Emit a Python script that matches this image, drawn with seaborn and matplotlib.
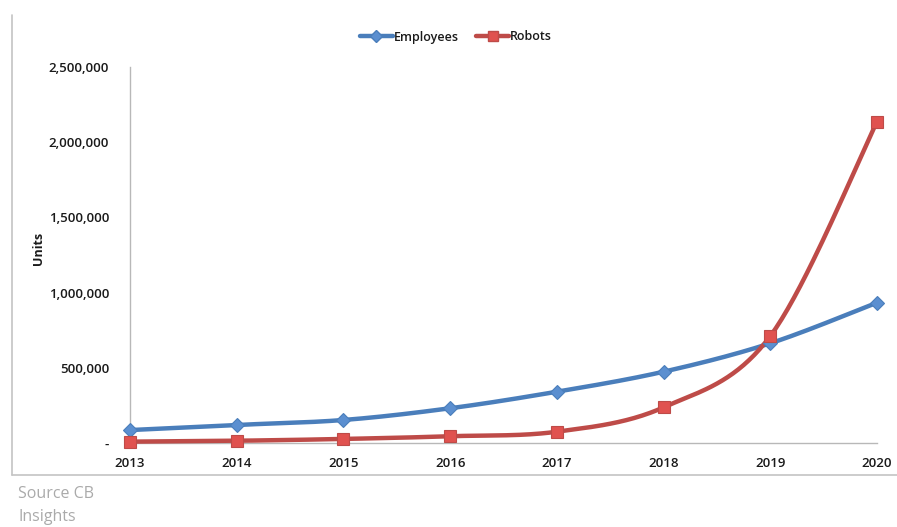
import numpy as np
import pandas as pd
import matplotlib
matplotlib.use("Agg")
import matplotlib.pyplot as plt
import seaborn as sns
from matplotlib.lines import Line2D
from matplotlib.ticker import FuncFormatter

years = [2013, 2014, 2015, 2016, 2017, 2018, 2019, 2020]
employees = [86000, 120000, 153000, 231000, 341000, 474000, 663000, 933000]
robots = [9000, 15000, 27000, 45000, 75000, 237000, 711000, 2136000]
series_names = ["Employees", "Robots"]
y_ticks = [0, 500000, 1000000, 1500000, 2000000, 2500000]

sns.set_theme(style="white")
plt.rcParams["font.family"] = ["Open Sans", "DejaVu Sans"]

BLUE_LINE = "#4A7EBB"
BLUE_MK = "#5B8FD0"
RED_LINE = "#BE4B48"
RED_MK = "#E0524F"


def smooth(x, y, n=40):
    # Excel-like Catmull-Rom smoothing for drawing
    x = np.asarray(x, float)
    y = np.asarray(y, float)
    xs, ys = [], []
    for i in range(len(x) - 1):
        p0 = np.array([x[max(i - 1, 0)], y[max(i - 1, 0)]])
        p1 = np.array([x[i], y[i]])
        p2 = np.array([x[i + 1], y[i + 1]])
        p3 = np.array([x[min(i + 2, len(x) - 1)], y[min(i + 2, len(x) - 1)]])
        c1 = p1 + (p2 - p0) / 6.0
        c2 = p2 - (p3 - p1) / 6.0
        t = np.linspace(0, 1, n, endpoint=(i == len(x) - 2))[:, None]
        pts = ((1 - t) ** 3) * p1 + 3 * ((1 - t) ** 2) * t * c1 + 3 * (1 - t) * t ** 2 * c2 + t ** 3 * p2
        xs.extend(pts[:, 0])
        ys.extend(pts[:, 1])
    return np.array(xs), np.array(ys)


fig = plt.figure(figsize=(8.97, 5.27), dpi=100)
ax = fig.add_axes([130 / 897, 1 - 443 / 527, (877 - 130) / 897, (443 - 67) / 527])

for name, vals, lc, mc, mk, ms in [
    ("Employees", employees, BLUE_LINE, BLUE_MK, "D", 7),
    ("Robots", robots, RED_LINE, RED_MK, "s", 9),
]:
    sx, sy = smooth(years, vals)
    sns.lineplot(x=sx, y=sy, ax=ax, color=lc, linewidth=3.2, sort=False, clip_on=False, zorder=3)
    ax.plot(years, vals, linestyle="none", marker=mk, markersize=ms, markerfacecolor=mc,
            markeredgecolor=lc, markeredgewidth=0.8, clip_on=False, zorder=4)

ax.set_xlim(years[0], years[-1])
ax.set_ylim(0, 2500000)
ax.set_xticks(years)
ax.set_xticklabels([str(y) for y in years])
ax.set_yticks(y_ticks)
ax.yaxis.set_major_formatter(FuncFormatter(lambda v, p: "-" if v == 0 else f"{int(v):,}"))

for s in ["top", "right"]:
    ax.spines[s].set_visible(False)
for s in ["left", "bottom"]:
    ax.spines[s].set_color("#B8B8B8")
    ax.spines[s].set_linewidth(1.0)

ax.tick_params(axis="both", which="major", length=5, width=1, color="#B8B8B8",
               direction="out", labelsize=9.5, labelcolor="#1a1a1a")
ax.tick_params(axis="x", pad=5)
ax.tick_params(axis="y", pad=10)
for lbl in ax.get_xticklabels() + ax.get_yticklabels():
    lbl.set_fontweight("semibold")

ax.set_ylabel("")
fig.text(38 / 897, 1 - 248 / 527, "Units", rotation=90, fontsize=9, fontweight="bold",
         color="#1a1a1a", ha="center", va="center")

handles = [
    Line2D([0], [0], color=BLUE_LINE, lw=3.2, marker="D", markersize=6,
           markerfacecolor=BLUE_MK, markeredgecolor=BLUE_LINE),
    Line2D([0], [0], color=RED_LINE, lw=3.2, marker="s", markersize=7,
           markerfacecolor=RED_MK, markeredgecolor=RED_LINE),
]
leg = fig.legend(handles, series_names, loc="center", bbox_to_anchor=(456 / 897, 1 - 37 / 527),
                 ncol=2, frameon=False, handlelength=2.6, handletextpad=0.1, columnspacing=1.4,
                 prop={"size": 9, "weight": "semibold"})
for t in leg.get_texts():
    t.set_color("#1a1a1a")

# outer chart frame (left and bottom)
fig.add_artist(Line2D([12 / 897, 12 / 897], [1 - 15 / 527, 1 - 475 / 527], color="#C4C4C4", lw=1.2))
fig.add_artist(Line2D([12 / 897, 1.0], [1 - 475 / 527, 1 - 475 / 527], color="#C4C4C4", lw=1.2))

fig.text(18 / 897, 1 - 494 / 527, "Source CB", fontsize=11.5, color="#AAAAAA", va="center", ha="left")
fig.text(18 / 897, 1 - 517 / 527, "Insights", fontsize=11.5, color="#AAAAAA", va="center", ha="left")

fig.savefig("out.png", dpi=100, facecolor="white")
